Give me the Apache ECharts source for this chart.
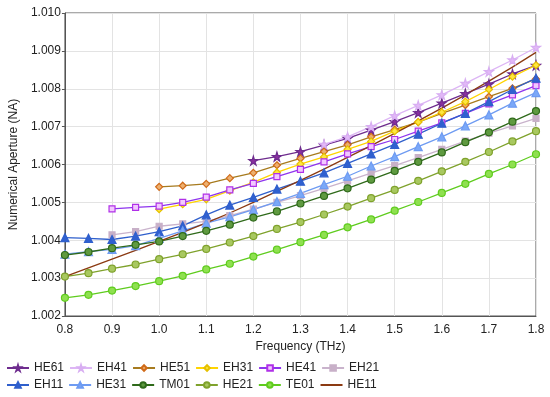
<!DOCTYPE html>
<html>
<head>
<meta charset="utf-8">
<script src="https://cdn.jsdelivr.net/npm/echarts@6/dist/echarts.min.js"></script>
<style>html,body{margin:0;padding:0;background:#fff}#c{width:550px;height:397px}</style>
</head>
<body>
<div id="c"></div>
<script>
const freq = [0.8,0.85,0.9,0.95,1.0,1.05,1.1,1.15,1.2,1.25,1.3,1.35,1.4,1.45,1.5,1.55,1.6,1.65,1.7,1.75,1.8];
const xTicks = [0.8,0.9,1.0,1.1,1.2,1.3,1.4,1.5,1.6,1.7,1.8];
const yTicks = [1.002,1.003,1.004,1.005,1.006,1.007,1.008,1.009,1.010];
const seriesNames = ['HE61','EH41','HE51','EH31','HE41','EH21','EH11','HE31','TM01','HE21','TE01','HE11'];

const HE61 = [null,null,null,null,null,null,null,null,1.00610,1.00621,1.00634,1.00651,1.00669,1.00691,1.00713,1.00737,1.00762,1.00787,1.00812,1.00839,1.00862];
const EH41 = [null,null,null,null,null,null,null,null,null,null,null,1.00653,1.00673,1.00700,1.00729,1.00756,1.00784,1.00814,1.00845,1.00876,1.00909];
const HE51 = [null,null,null,null,1.00541,1.00544,1.00549,1.00564,1.00578,1.00598,1.00616,1.00634,1.00652,1.00673,1.00692,1.00712,1.00735,1.00757,1.00779,1.00801,1.00826];
const EH31 = [null,null,null,null,1.00482,1.00495,1.00508,1.00531,1.00553,1.00579,1.00601,1.00620,1.00640,1.00661,1.00688,1.00712,1.00738,1.00766,1.00798,1.00832,1.00862];
const HE41 = [null,null,1.00483,1.00487,1.00490,1.00500,1.00514,1.00533,1.00550,1.00568,1.00587,1.00607,1.00628,1.00647,1.00666,1.00688,1.00710,1.00735,1.00760,1.00784,1.00808];
const EH21 = [null,null,1.00414,1.00423,1.00437,1.00443,1.00450,1.00465,1.00482,1.00500,1.00518,1.00537,1.00557,1.00577,1.00597,1.00618,1.00640,1.00662,1.00683,1.00702,1.00722];
const EH11 = [1.00407,1.00405,1.00402,1.00411,1.00423,1.00438,1.00467,1.00493,1.00513,1.00535,1.00556,1.00578,1.00603,1.00628,1.00653,1.00680,1.00709,1.00735,1.00766,1.00798,1.00828];
const HE31 = [1.00363,1.00370,1.00376,1.00386,1.00405,1.00425,1.00445,1.00462,1.00481,1.00502,1.00524,1.00547,1.00569,1.00596,1.00621,1.00647,1.00673,1.00702,1.00731,1.00762,1.00790];
const TM01 = [1.00361,1.00369,1.00379,1.00388,1.00397,1.00411,1.00425,1.00441,1.00460,1.00476,1.00497,1.00517,1.00537,1.00560,1.00583,1.00607,1.00632,1.00659,1.00685,1.00713,1.00741];
const HE21 = [1.00304,1.00313,1.00325,1.00336,1.00350,1.00363,1.00377,1.00394,1.00411,1.00430,1.00448,1.00468,1.00489,1.00511,1.00533,1.00557,1.00582,1.00607,1.00633,1.00661,1.00688];
const TE01 = [1.00248,1.00256,1.00267,1.00279,1.00292,1.00306,1.00323,1.00338,1.00357,1.00375,1.00395,1.00414,1.00434,1.00455,1.00478,1.00501,1.00525,1.00549,1.00575,1.00600,1.00627];
const HE11 = [1.00304,1.00327,1.00350,1.00373,1.00397,1.00421,1.00446,1.00472,1.00500,1.00529,1.00558,1.00588,1.00619,1.00650,1.00682,1.00715,1.00749,1.00784,1.00820,1.00857,1.00896];

const STAR = 'path://M50,0 L61,35 L98,35 L68,57 L79,91 L50,70 L21,91 L32,57 L2,35 L39,35 Z';
const styles = {
  HE61: {line:'#6E2C8E', fill:'#8B2FA0', border:'#6E2C8E', sym:STAR, size:9},
  EH41: {line:'#DDB6F5', fill:'#E3B8F8', border:'#D8AEF2', sym:STAR, size:9},
  HE51: {line:'#A77B1F', fill:'#EDB070', border:'#D06A18', sym:'diamond', size:7},
  EH31: {line:'#FFD400', fill:'#FFE640', border:'#E5C000', sym:'diamond', size:7},
  HE41: {line:'#8E35EE', fill:'#F2C8FF', border:'#B030E8', sym:'rect', size:6},
  EH21: {line:'#C9B3CC', fill:'#C8B0C8', border:'#C8B0C8', sym:'rect', size:6},
  EH11: {line:'#2F5FCC', fill:'#3060D0', border:'#2F5FCC', sym:'triangle', size:8},
  HE31: {line:'#6E9BF2', fill:'#7AA8F8', border:'#6E9BF2', sym:'triangle', size:8},
  TM01: {line:'#2F6A1A', fill:'#5F9A40', border:'#2F6A1A', sym:'circle', size:7},
  HE21: {line:'#7FA22C', fill:'#A8C860', border:'#7FA22C', sym:'circle', size:7},
  TE01: {line:'#5FCC1E', fill:'#8FE050', border:'#5FCC1E', sym:'circle', size:7},
  HE11: {line:'#8B3A12', fill:'#8B3A12', border:'#8B3A12', sym:'none', size:0}
};
const values = {HE61,EH41,HE51,EH31,HE41,EH21,EH11,HE31,TM01,HE21,TE01,HE11};

const FONT = 'Liberation Sans';
const series = seriesNames.map(name => {
  const s = styles[name];
  const data = [];
  freq.forEach((f,i) => { if (values[name][i] != null) data.push([f, values[name][i]]); });
  return {
    name, type:'line', data,
    symbol: s.sym, symbolSize: s.size, showSymbol: s.sym !== 'none',
    lineStyle: {color: s.line, width: 1.3},
    itemStyle: {color: s.fill, borderColor: s.border, borderWidth: 1.2},
    emphasis: {disabled: true},
    animation: false
  };
});

const legendData = seriesNames.map(name => name === 'HE11'
  ? {name, itemStyle: {color: 'rgba(0,0,0,0)', borderColor: 'rgba(0,0,0,0)', borderWidth: 0}}
  : {name});

const chart = echarts.init(document.getElementById('c'), null, {renderer:'canvas'});
chart.setOption({
  backgroundColor: '#fff',
  animation: false,
  grid: {left: 63, right: 14, top: 13, bottom: 81, show: true, borderColor: '#555', borderWidth: 1, containLabel: false},
  legend: {
    data: legendData, left: 6, top: 362, width: 400, orient: 'horizontal', padding: 0,
    itemWidth: 22, itemHeight: 7, itemGap: 5,
    textStyle: {fontFamily: FONT, fontSize: 12, color: '#222', width: 36}
  },
  xAxis: {
    type: 'value', min: xTicks[0], max: xTicks[xTicks.length-1], interval: 0.1,
    name: 'Frequency (THz)', nameLocation: 'middle', nameGap: 24,
    nameTextStyle: {fontFamily: FONT, fontSize: 12, color: '#222'},
    axisLine: {show: true, lineStyle: {color: '#555'}},
    axisTick: {show: false},
    axisLabel: {fontFamily: FONT, fontSize: 12, color: '#222', margin: 8, formatter: v => v.toFixed(1)},
    splitLine: {show: true, lineStyle: {color: '#e3e3e3'}}
  },
  yAxis: {
    type: 'value', min: yTicks[0], max: yTicks[yTicks.length-1], interval: 0.001,
    name: 'Numerical Aperture (NA)', nameLocation: 'middle', nameGap: 42,
    nameTextStyle: {fontFamily: FONT, fontSize: 12, color: '#222'},
    axisLine: {show: true, lineStyle: {color: '#555'}},
    axisTick: {show: true, length: 3, lineStyle: {color: '#555'}},
    axisLabel: {fontFamily: FONT, fontSize: 12, color: '#222', margin: 4, formatter: v => v.toFixed(3)},
    splitLine: {show: true, lineStyle: {color: '#e3e3e3'}}
  },
  series
});
</script>
</body>
</html>
